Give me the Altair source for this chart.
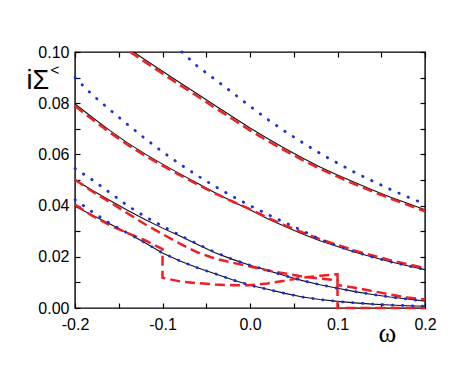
import altair as alt
import pandas as pd

GRID = [-0.20, -0.18, -0.16, -0.14, -0.12, -0.10, -0.08, -0.06, -0.04, -0.02,
        0.00, 0.02, 0.04, 0.06, 0.08, 0.10, 0.12, 0.14, 0.16, 0.18, 0.20]

# ---- curve A (top) ----
a_black_x = [-0.133] + GRID[4:]
a_black_y = [0.1000, 0.0970, 0.0925, 0.0880, 0.0836, 0.0791, 0.0747, 0.0703, 0.0662,
             0.0623, 0.0586, 0.0551, 0.0520, 0.0490, 0.0461, 0.0434, 0.0409, 0.0384]
a_red_x = [-0.137] + GRID[4:]
a_red_y = [0.1000, 0.0961, 0.0916, 0.0871, 0.0827, 0.0782, 0.0738, 0.0694, 0.0653,
           0.0615, 0.0578, 0.0544, 0.0513, 0.0483, 0.0455, 0.0428, 0.0403, 0.0378]
a_blue_x = [-0.078] + GRID[7:]
a_blue_y = [0.1000, 0.0944, 0.0893, 0.0841, 0.0788, 0.0737, 0.0690, 0.0646, 0.0604,
            0.0566, 0.0529, 0.0496, 0.0464, 0.0434, 0.0406]

# ---- curve B ----
b_black_y = [0.0797, 0.0744, 0.0693, 0.0645, 0.0602, 0.0562, 0.0524, 0.0487, 0.0450, 0.0416,
             0.0384, 0.0349, 0.0318, 0.0289, 0.0263, 0.0240, 0.0218, 0.0199, 0.0181, 0.0165, 0.0150]
b_red_y = [0.0789, 0.0736, 0.0685, 0.0638, 0.0595, 0.0556, 0.0519, 0.0483, 0.0448, 0.0416,
           0.0386, 0.0353, 0.0323, 0.0295, 0.0269, 0.0246, 0.0224, 0.0205, 0.0187, 0.0171, 0.0156]
b_blue_y = [0.0900, 0.0832, 0.0774, 0.0717, 0.0662, 0.0610, 0.0562, 0.0517, 0.0475, 0.0436,
            0.0400, 0.0366, 0.0334, 0.0302, 0.0268, 0.0242, 0.0219, 0.0199, 0.0181, 0.0165, 0.0150]

# ---- curve C ----
c_black_y = [0.0501, 0.0459, 0.0420, 0.0382, 0.0346, 0.0312, 0.0281, 0.0248, 0.0216, 0.0190,
             0.0167, 0.0147, 0.0126, 0.0107, 0.0091, 0.0077, 0.0064, 0.0053, 0.0043, 0.0035, 0.0027]
c_blue_y = [0.0545, 0.0500, 0.0450, 0.0400, 0.0357, 0.0320, 0.0284, 0.0250, 0.0218, 0.0190,
            0.0167, 0.0147, 0.0126, 0.0107, 0.0091, 0.0077, 0.0064, 0.0053, 0.0043, 0.0035, 0.0027]
c_red_x = GRID[:16] + [0.10] + GRID[16:]
c_red_y = [0.0501, 0.0455, 0.0413, 0.0370, 0.0327, 0.0289, 0.0251, 0.0217, 0.0193, 0.0177,
           0.0162, 0.0147, 0.0135, 0.0123, 0.0115, 0.0108, 0.0090, 0.0079, 0.0066, 0.0053,
           0.0041, 0.0033]

# ---- curve D (bottom) ----
d_black_y = [0.0397, 0.0362, 0.0328, 0.0293, 0.0255, 0.0215, 0.0184, 0.0157, 0.0134, 0.0110,
             0.0089, 0.0073, 0.0057, 0.0043, 0.0033, 0.0026, 0.0020, 0.0015, 0.0012, 0.0009, 0.0007]
d_blue_y = [0.0423, 0.0375, 0.0330, 0.0293, 0.0255, 0.0215, 0.0184, 0.0157, 0.0134, 0.0110,
            0.0089, 0.0073, 0.0057, 0.0043, 0.0033, 0.0026, 0.0020, 0.0015, 0.0012, 0.0009, 0.0007]
d_red_x = GRID[:6] + [-0.10] + GRID[6:16] + [0.10] + GRID[16:]
d_red_y = [0.0404, 0.0360, 0.0323, 0.0293, 0.0265, 0.0230, 0.0118, 0.0104, 0.0097, 0.0092,
           0.0089, 0.0089, 0.0096, 0.0107, 0.0118, 0.0126, 0.0132, 0.0, 0.0, 0.0, 0.0, 0.0, 0.0]

series = [
    ("A", "black", a_black_x, a_black_y), ("A", "red", a_red_x, a_red_y), ("A", "blue", a_blue_x, a_blue_y),
    ("B", "black", GRID, b_black_y), ("B", "red", GRID, b_red_y), ("B", "blue", GRID, b_blue_y),
    ("C", "black", GRID, c_black_y), ("C", "red", c_red_x, c_red_y), ("C", "blue", GRID, c_blue_y),
    ("D", "black", GRID, d_black_y), ("D", "red", d_red_x, d_red_y), ("D", "blue", GRID, d_blue_y),
]
rows = []
for grp, sty, xs, ys in series:
    for i, (xv, yv) in enumerate(zip(xs, ys)):
        rows.append({"grp": grp, "style": sty, "idx": i, "x": xv, "y": yv})
df = pd.DataFrame(rows)

x_ticks = [round(-0.2 + 0.05 * i, 2) for i in range(9)]
y_ticks = [round(0.01 * i, 2) for i in range(11)]

xs = alt.Scale(domain=[-0.2, 0.2], nice=False, zero=False)
ys = alt.Scale(domain=[0, 0.1], nice=False, zero=False)

font = "Liberation Sans"
x_main = alt.Axis(values=x_ticks, orient="bottom", offset=-5, domain=False, tickSize=5,
                  tickColor="black", tickWidth=1.2, grid=False, labelFont=font, labelFontSize=16,
                  labelColor="black", labelPadding=8, labelFlush=False,
                  labelExpr="round(datum.value*20) % 2 == 0 ? (datum.value < -0.001 ? '-' + format(abs(datum.value), '.1f') : format(abs(datum.value), '.1f')) : ''",
                  title="ω", titleFont="Liberation Serif", titleFontSize=27, titleFontWeight="normal",
                  titleColor="black", titleX=312, titleY=38, titleAlign="center", titleBaseline="alphabetic")
y_main = alt.Axis(values=y_ticks, orient="left", offset=-5, domain=False, tickSize=5,
                  tickColor="black", tickWidth=1.2, grid=False, labelFont=font, labelFontSize=16,
                  labelColor="black", labelPadding=6, labelFlush=False,
                  labelExpr="round(datum.value*100) % 2 == 0 ? format(datum.value, '.2f') : ''",
                  title="iΣ", titleFont=font, titleFontSize=27, titleFontWeight="normal",
                  titleColor="black", titleAngle=0, titleX=-54, titleY=36, titleAlign="left",
                  titleBaseline="alphabetic")
x_top = alt.Axis(values=x_ticks, orient="top", offset=-5, domain=False, tickSize=5,
                 tickColor="black", tickWidth=1.2, grid=False, labels=False,
                 title="<", titleFont=font, titleFontSize=15, titleFontWeight="normal",
                 titleColor="black", titleX=-25, titleY=17, titleAlign="left",
                 titleBaseline="alphabetic")
y_right = alt.Axis(values=y_ticks, orient="right", offset=-5, domain=False, tickSize=5,
                   tickColor="black", tickWidth=1.2, grid=False, labels=False, title="")

base = alt.Chart(df)

black = base.transform_filter(alt.datum.style == "black").mark_line(
    color="#111111", strokeWidth=1.1).encode(
    x=alt.X("x:Q", scale=xs, axis=x_main),
    y=alt.Y("y:Q", scale=ys, axis=y_main),
    detail="grp:N", order="idx:Q")

red = base.transform_filter(alt.datum.style == "red").mark_line(
    color="#ee2024", strokeWidth=2.5, strokeDash=[10, 5]).encode(
    x=alt.X("x:Q", scale=xs, axis=x_top),
    y=alt.Y("y:Q", scale=ys, axis=y_right),
    detail="grp:N", order="idx:Q")

blue = base.transform_filter(alt.datum.style == "blue").mark_line(
    color="#1c2ed8", strokeWidth=2.8, strokeDash=[0.5, 9.5], strokeCap="round").encode(
    x=alt.X("x:Q", scale=xs, axis=None),
    y=alt.Y("y:Q", scale=ys, axis=None),
    detail="grp:N", order="idx:Q")

chart = alt.layer(black, red, blue).resolve_axis(x="independent", y="independent").properties(
    width=350, height=256,
    autosize=alt.AutoSizeParams(type="none"),
    padding={"left": 67, "top": 44, "right": 41, "bottom": 58},
    background="white",
).configure_view(stroke="black", strokeWidth=1.4)

chart.save("out.html", embed_options={"renderer": "svg", "actions": False})
